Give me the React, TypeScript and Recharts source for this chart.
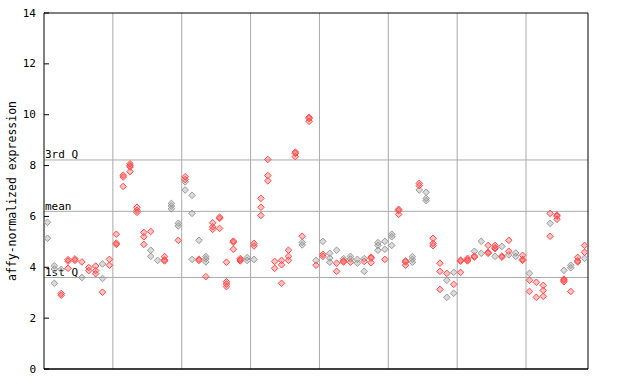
import {
  ScatterChart,
  Scatter,
  XAxis,
  YAxis,
  ReferenceLine,
} from "recharts";

// one entry per sample (79 samples)
const redValues: number[][] = [
  [], [], [2.97, 2.9], [4.3, 4.24, 3.96], [4.33, 4.27], [4.21], [3.99, 3.87],
  [4.05, 3.87, 3.75], [3.02], [4.31, 4.08],
  [5.3, 4.95, 4.9], [7.62, 7.55, 7.18], [8.07, 8.0, 7.95, 7.76], [6.36, 6.24, 6.16],
  [5.37, 5.2, 4.9], [5.41], [], [4.42, 4.29, 4.25], [], [5.06],
  [7.56, 7.45], [], [4.32, 4.27], [3.63], [5.75, 5.59, 5.49], [5.97, 5.92, 5.53],
  [4.2, 3.43, 3.34, 3.24], [5.03, 4.98, 4.71], [4.34, 4.29, 4.25], [],
  [4.94, 4.84], [6.71, 6.36, 6.04], [8.24, 7.61, 7.4], [4.23, 3.96],
  [4.27, 4.1, 3.37], [4.67, 4.43, 4.27], [8.53, 8.48, 8.35], [5.22],
  [9.9, 9.85, 9.74], [4.08],
  [4.51, 4.43], [], [4.16, 3.84], [4.25, 4.21], [4.2], [], [4.23],
  [4.4, 4.36, 4.18], [], [4.31],
  [], [6.28, 6.23, 6.08], [4.25, 4.21, 4.08], [], [7.3, 7.21], [],
  [5.14, 4.94, 4.85], [4.16, 3.84, 3.13], [3.76], [3.33],
  [4.28, 4.24, 3.8], [4.35, 4.29, 4.25], [4.44, 4.4], [], [4.86, 4.59, 4.55],
  [4.86, 4.77, 4.73], [4.44, 4.4], [5.06, 4.63], [], [4.47, 4.31, 4.27],
  [3.49, 3.05], [3.41, 2.82], [3.29, 3.09, 2.86], [6.12, 5.22],
  [6.05, 6.01, 5.89], [3.53, 3.49, 3.43], [3.05], [4.39, 4.25, 4.21], [4.86, 4.59],
];

const greyValues: number[][] = [
  [5.77, 5.14], [4.06, 3.93, 3.37], [3.92], [], [], [3.6], [], [], [4.13, 3.56], [],
  [], [], [], [], [], [4.67, 4.43], [4.27], [], [6.51, 6.41, 6.3], [5.73, 5.63],
  [7.36, 7.04], [6.83, 6.12, 4.31], [5.06], [4.42, 4.33, 4.21], [], [], [], [], [],
  [4.38, 4.27],
  [4.31], [], [], [], [], [], [], [4.98, 4.88], [], [4.27],
  [5.02], [4.55, 4.36, 4.2], [4.67], [4.34], [4.43, 4.33], [4.31, 4.16],
  [4.34, 3.84], [], [4.97, 4.86, 4.67], [5.02, 4.71],
  [5.3, 5.2, 4.86], [], [], [4.42, 4.31, 4.2], [7.04], [6.95, 6.71, 6.62], [], [],
  [3.49, 2.82], [3.8, 2.98],
  [], [], [4.63], [5.02, 4.55], [], [4.43], [4.82], [4.49], [4.56, 4.43], [],
  [3.76], [], [], [5.73], [], [3.88], [4.08, 3.98], [], [4.35],
];

const yTicks = [0, 2, 4, 6, 8, 10, 12, 14];
const groupBreaks = [10, 20, 30, 40, 50, 60, 70];
const quartiles = [
  { label: "3rd Q", value: 8.22 },
  { label: "mean", value: 6.2 },
  { label: "1st Q", value: 3.6 },
];

const toPoints = (rows: number[][]) =>
  rows.flatMap((vals, i) => vals.map((v) => ({ x: i + 0.5, y: v })));

const redData = toPoints(redValues);
const greyData = toPoints(greyValues);

const FONT = "'DejaVu Sans Mono', monospace";
const PLOT_LEFT = 44;
const PLOT_RIGHT = 588;

const makeDiamond = (color: string) => (props: any) => {
  const { cx, cy } = props;
  if (cx == null || cy == null) return null;
  const r = 3.3;
  return (
    <polygon
      points={`${cx},${cy - r} ${cx + r},${cy} ${cx},${cy + r} ${cx - r},${cy}`}
      fill={color}
      fillOpacity={0.35}
      stroke={color}
      strokeWidth={1}
    />
  );
};
const greyDiamond = makeDiamond("#999999");
const redDiamond = makeDiamond("#ff4d4d");

// tick marks point into the plot on both sides
const LeftTick = (props: any) => {
  const { y, payload } = props;
  return (
    <g>
      <line x1={PLOT_LEFT} x2={PLOT_LEFT + 5} y1={y} y2={y} stroke="#000" />
      <text
        x={PLOT_LEFT - 8}
        y={y}
        dy={3.5}
        textAnchor="end"
        fontFamily={FONT}
        fontSize={11}
        fill="#000"
      >
        {payload.value}
      </text>
    </g>
  );
};

const RightTick = (props: any) => {
  const { y } = props;
  return <line x1={PLOT_RIGHT - 5} x2={PLOT_RIGHT} y1={y} y2={y} stroke="#000" />;
};

const QLabel = (text: string) => (props: any) => {
  const { viewBox } = props;
  return (
    <text
      x={viewBox.x + 1}
      y={viewBox.y - 1.5}
      fontFamily={FONT}
      fontSize={11}
      fill="#000"
    >
      {text}
    </text>
  );
};

export default function App() {
  return (
    <div style={{ position: "absolute", left: 0, top: 0, background: "#fff" }}>
      <ScatterChart
        width={640}
        height={384}
        margin={{ top: 13, right: 42, bottom: 14, left: 0 }}
      >
        <XAxis
          type="number"
          dataKey="x"
          domain={[0, 79]}
          height={1}
          tick={false}
          tickLine={false}
          axisLine={{ stroke: "#000", strokeWidth: 1.5 }}
        />
        <YAxis
          yAxisId="l"
          type="number"
          dataKey="y"
          domain={[0, 14]}
          ticks={yTicks}
          interval={0}
          width={44}
          tickLine={false}
          tick={<LeftTick />}
          axisLine={{ stroke: "#000" }}
        />
        <YAxis
          yAxisId="r"
          orientation="right"
          type="number"
          domain={[0, 14]}
          ticks={yTicks}
          interval={0}
          width={10}
          tickLine={false}
          tick={<RightTick />}
          axisLine={{ stroke: "#000" }}
        />
        {groupBreaks.map((b) => (
          <ReferenceLine key={"g" + b} yAxisId="l" x={b} stroke="#aaaaaa" />
        ))}
        {quartiles.map((q) => (
          <ReferenceLine
            key={q.label}
            yAxisId="l"
            y={q.value}
            stroke="#aaaaaa"
            label={QLabel(q.label)}
          />
        ))}
        <ReferenceLine key="top" yAxisId="l" y={14} stroke="#000" />
        <Scatter
          yAxisId="l"
          data={greyData}
          shape={greyDiamond}
          isAnimationActive={false}
        />
        <Scatter
          yAxisId="l"
          data={redData}
          shape={redDiamond}
          isAnimationActive={false}
        />
        <text
          x={12}
          y={191}
          transform="rotate(-90 12 191)"
          textAnchor="middle"
          dominantBaseline="middle"
          fontFamily={FONT}
          fontSize={11.5}
          fill="#000"
        >
          affy-normalized expression
        </text>
      </ScatterChart>
    </div>
  );
}
